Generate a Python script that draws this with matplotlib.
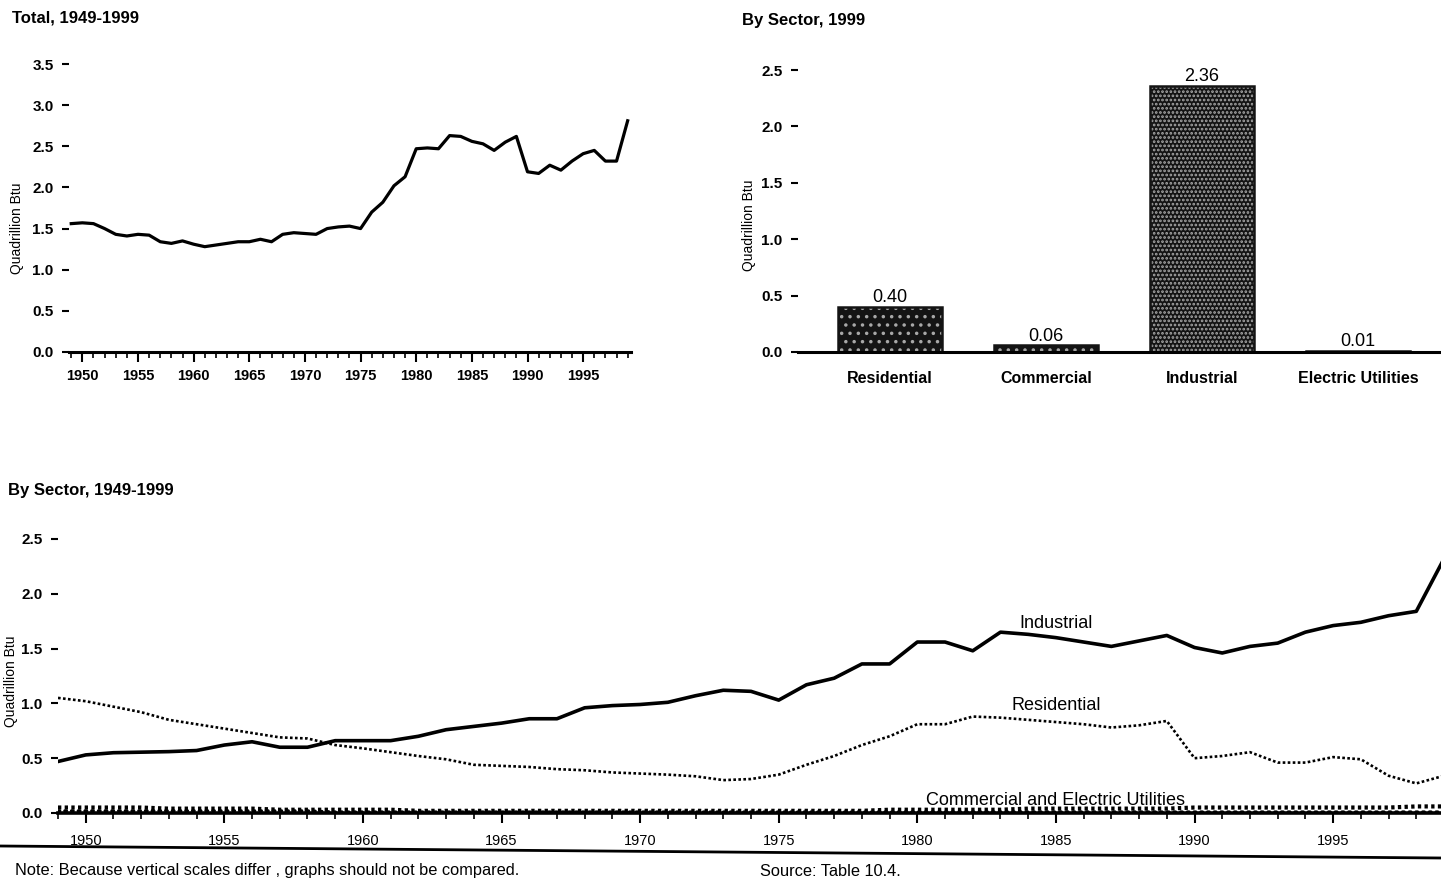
import matplotlib.pyplot as plt
from matplotlib.lines import Line2D
from matplotlib.ticker import MultipleLocator

plt.rcParams['font.family'] = ['Liberation Sans', 'DejaVu Sans']
plt.rcParams['hatch.linewidth'] = 1.3

years = list(range(1949, 2000))

# total consumption, quadrillion Btu
total = [1.56, 1.57, 1.56, 1.50, 1.43, 1.41, 1.43, 1.42, 1.34, 1.32,
         1.35, 1.31, 1.28, 1.30, 1.32, 1.34, 1.34, 1.37, 1.34, 1.43,
         1.45, 1.44, 1.43, 1.50, 1.52, 1.53, 1.50, 1.70, 1.82, 2.02,
         2.13, 2.47, 2.48, 2.47, 2.63, 2.62, 2.56, 2.53, 2.45, 2.55,
         2.62, 2.19, 2.17, 2.27, 2.21, 2.32, 2.41, 2.45, 2.32, 2.32,
         2.81]

# 1999 by sector
sectors = ["Residential", "Commercial", "Industrial", "Electric Utilities"]
sector_1999 = [0.40, 0.06, 2.36, 0.01]
bar_hatch = ["..", "..", "....", ".."]

# by sector, 1949-1999
industrial = [0.47, 0.53, 0.55, 0.555, 0.56, 0.57, 0.62, 0.65, 0.60, 0.60,
              0.66, 0.66, 0.66, 0.70, 0.76, 0.79, 0.82, 0.86, 0.86, 0.96,
              0.98, 0.99, 1.01, 1.07, 1.12, 1.11, 1.03, 1.17, 1.23, 1.36,
              1.36, 1.56, 1.56, 1.48, 1.65, 1.63, 1.60, 1.56, 1.52, 1.57,
              1.62, 1.51, 1.46, 1.52, 1.55, 1.65, 1.71, 1.74, 1.80, 1.84,
              2.32]
residential = [1.05, 1.02, 0.97, 0.92, 0.85, 0.81, 0.77, 0.73, 0.69, 0.68,
               0.62, 0.59, 0.555, 0.52, 0.49, 0.44, 0.43, 0.42, 0.40, 0.39,
               0.37, 0.36, 0.35, 0.335, 0.30, 0.31, 0.35, 0.44, 0.52, 0.62,
               0.70, 0.81, 0.81, 0.88, 0.87, 0.85, 0.83, 0.81, 0.78, 0.80,
               0.84, 0.50, 0.52, 0.555, 0.46, 0.46, 0.51, 0.49, 0.34, 0.27,
               0.34]
commercial = [0.05, 0.05, 0.05, 0.05, 0.04, 0.04, 0.04, 0.04, 0.03, 0.03,
              0.03, 0.03, 0.03, 0.02, 0.02, 0.02, 0.02, 0.02, 0.02, 0.02,
              0.02, 0.02, 0.02, 0.02, 0.02, 0.02, 0.02, 0.02, 0.02, 0.02,
              0.03, 0.03, 0.03, 0.03, 0.03, 0.04, 0.04, 0.04, 0.04, 0.04,
              0.04, 0.05, 0.05, 0.05, 0.05, 0.05, 0.05, 0.05, 0.05, 0.06,
              0.06]
utilities = [0.02, 0.02, 0.02, 0.02, 0.02, 0.02, 0.02, 0.02, 0.02, 0.02,
             0.01, 0.01, 0.01, 0.01, 0.01, 0.01, 0.01, 0.01, 0.01, 0.01,
             0.01, 0.01, 0.01, 0.01, 0.01, 0.01, 0.01, 0.01, 0.01, 0.01,
             0.01, 0.01, 0.01, 0.01, 0.01, 0.01, 0.01, 0.01, 0.01, 0.01,
             0.01, 0.01, 0.01, 0.01, 0.01, 0.01, 0.01, 0.01, 0.01, 0.01,
             0.01]

W, H = 1441, 884
fig = plt.figure(figsize=(W / 100, H / 100), dpi=100)


def px_axes(x0, y0, x1, y1):
    # axes box from pixel corners (top-left origin)
    return fig.add_axes([x0 / W, 1 - y1 / H, (x1 - x0) / W, (y1 - y0) / H])


def style_axes(ax):
    for s in ("top", "right", "left"):
        ax.spines[s].set_visible(False)
    ax.spines["bottom"].set_linewidth(2.2)
    ax.tick_params(axis="y", length=5, width=1.5, pad=6)
    ax.yaxis.set_major_locator(MultipleLocator(0.5))
    ax.yaxis.set_major_formatter(lambda v, p: f"{v:.1f}")
    for lab in ax.get_yticklabels():
        lab.set_fontsize(11)
        lab.set_fontweight("bold")


# --- Total, 1949-1999 ---
ax1 = px_axes(69, 64, 631, 352)
ax1.plot(years, total, color="black", lw=2.3)
ax1.set_xlim(1948.8, 1999.3)
ax1.set_ylim(0, 3.5)
style_axes(ax1)
ax1.set_xticks(range(1950, 2000, 5))
ax1.xaxis.set_minor_locator(MultipleLocator(1))
ax1.tick_params(axis="x", which="major", length=7, width=1.5, pad=5)
ax1.tick_params(axis="x", which="minor", length=4, width=1.2)
for lab in ax1.get_xticklabels():
    lab.set_fontsize(10.5)
    lab.set_fontweight("bold")
ax1.set_ylabel("Quadrillion Btu", fontsize=10)
ax1.yaxis.set_label_coords(-0.080, 0.43)
fig.text(12 / W, 1 - 18 / H, "Total, 1949-1999", fontsize=12, fontweight="bold",
         va="center", ha="left")

# --- By Sector, 1999 ---
ax2 = px_axes(798, 70, 1450, 352)
x = list(range(len(sectors)))
for i, v in enumerate(sector_1999):
    ax2.bar(i, v, width=0.67, color="#141414", edgecolor="#a8a8a8",
            hatch=bar_hatch[i], linewidth=0)
    ax2.text(i, v + 0.005, f"{v:.2f}", ha="center", va="bottom", fontsize=13)
ax2.bar(x, sector_1999, width=0.67, color="none", edgecolor="#141414",
        linewidth=1.8)
ax2.set_xlim(-0.59, 3.59)
ax2.set_ylim(0, 2.5)
style_axes(ax2)
ax2.set_xticks(x)
ax2.set_xticklabels(sectors)
ax2.tick_params(axis="x", length=0, pad=14)
for lab in ax2.get_xticklabels():
    lab.set_fontsize(11.5)
    lab.set_fontweight("bold")
ax2.set_ylabel("Quadrillion Btu", fontsize=10)
ax2.yaxis.set_label_coords(-0.064, 0.45)
fig.text(742 / W, 1 - 20 / H, "By Sector, 1999", fontsize=12, fontweight="bold",
         va="center", ha="left")

# --- By Sector, 1949-1999 ---
ax3 = px_axes(58, 539, 1444, 813)
ax3.plot(years, industrial, color="black", lw=2.6)
ax3.plot(years, residential, color="black", lw=1.9, linestyle=(0, (1, 0.9)))
ax3.plot(years, commercial, color="black", lw=3.0, linestyle=(0, (0.8, 0.8)))
ax3.plot(years, utilities, color="black", lw=2.2, linestyle=(0, (0.6, 1.6)),
         dash_capstyle="round")
ax3.set_xlim(1949, 1999)
ax3.set_ylim(0, 2.5)
style_axes(ax3)
ax3.spines["bottom"].set_linewidth(2.6)
ax3.set_xticks(range(1950, 2000, 5))
ax3.xaxis.set_minor_locator(MultipleLocator(1))
ax3.tick_params(axis="x", which="major", length=7, width=1.5, pad=8)
ax3.tick_params(axis="x", which="minor", length=4, width=1.2)
for lab in ax3.get_xticklabels():
    lab.set_fontsize(10.5)
ax3.set_ylabel("Quadrillion Btu", fontsize=10)
ax3.yaxis.set_label_coords(-0.029, 0.48)

ax3.annotate("Industrial", xy=(1985, industrial[years.index(1985)]),
             xytext=(0, 4), textcoords="offset points", ha="center",
             va="bottom", fontsize=13)
ax3.annotate("Residential", xy=(1985, residential[years.index(1985)]),
             xytext=(0, 6), textcoords="offset points", ha="center",
             va="bottom", fontsize=13)
ax3.annotate("Commercial and Electric Utilities", xy=(1985, 0.0),
             xytext=(0, 3), textcoords="offset points", ha="center",
             va="bottom", fontsize=13)

# rule under the year labels
fig.add_artist(Line2D([0, 1], [1 - 846 / H, 1 - 858 / H], color="black",
                      lw=2.0, transform=fig.transFigure))

fig.text(8 / W, 1 - 490 / H, "By Sector, 1949-1999", fontsize=12,
         fontweight="bold", va="center", ha="left")
fig.text(15 / W, 1 - 870 / H,
         "Note: Because vertical scales differ , graphs should not be compared.",
         fontsize=11.8, va="center", ha="left")
fig.text(760 / W, 1 - 871 / H, "Source: Table 10.4.", fontsize=11.8,
         va="center", ha="left")

fig.savefig("out.png", dpi=100)
